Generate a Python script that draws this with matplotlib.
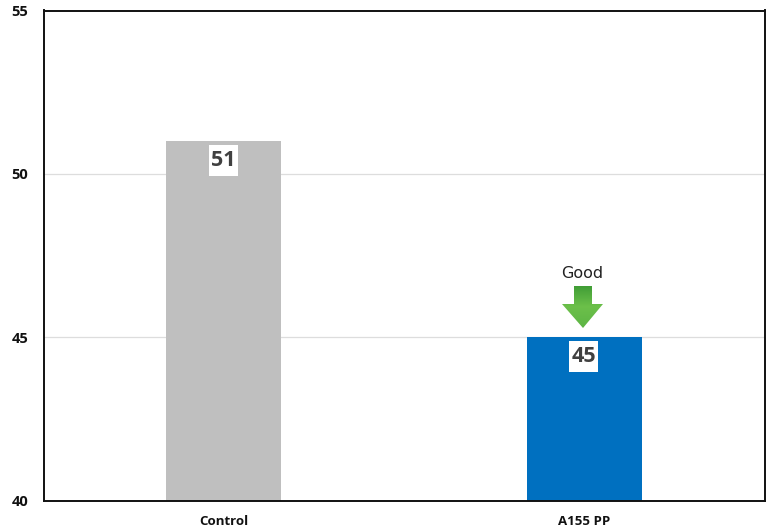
import matplotlib
matplotlib.use('Agg')
import matplotlib.pyplot as plt
import numpy as np
from matplotlib.patches import Polygon, Rectangle
from matplotlib.colors import LinearSegmentedColormap

categories = ['Control', 'A155 PP']
values = [51, 45]
bar_colors = ['#BFBFBF', '#0070C0']
y_ticks = [40, 45, 50, 55]

W, H = 771, 531
fig = plt.figure(figsize=(W / 100, H / 100), dpi=100)
ax = fig.add_axes([43.5 / W, 1 - 501 / H, 721 / W, 490.5 / H])

x = np.arange(len(categories))
ax.bar(x, values, width=0.318, color=bar_colors, zorder=2)
ax.set_xticks(x)
ax.set_xticklabels(categories, fontsize=9.5, fontweight='bold', family='Open Sans', color='#111111')
ax.set_yticks(y_ticks)
ax.set_yticklabels([str(t) for t in y_ticks], fontsize=10.5, fontweight='bold', family='Open Sans', color='#111111')
ax.tick_params(length=0)
ax.tick_params(axis='x', pad=10)
ax.tick_params(axis='y', pad=11)
ax.grid(axis='y', color='#DDDDDD', lw=0.9, zorder=1)
for s in ax.spines.values():
    s.set_linewidth(1.4)
    s.set_color('#111111')

# pixel sizes expressed in data units, for the value boxes
x_px = 2 / 721
y_px = 15 / 490.5

# white value boxes just under the top of each bar
for xi, v in zip(x, values):
    ax.add_patch(Rectangle((xi - 15 * x_px, v - 35 * y_px), 29 * x_px, 31 * y_px,
                           facecolor='white', edgecolor='none', zorder=3))
    ax.text(xi - 0.5 * x_px, v - 19 * y_px, str(v), ha='center', va='center',
            fontsize=15.5, fontweight='bold', family='Open Sans', color='#404040', zorder=4)

# "Good" marker above the second bar, placed in figure pixels
ax.text(582 / W, 1 - 274 / H, 'Good', transform=fig.transFigure, ha='center', va='center',
        fontsize=11.5, family='DejaVu Sans', color='#222222', zorder=5)

arrow_pts = [(574, 286), (592, 286), (592, 304), (603, 304), (583, 328), (562, 304), (574, 304)]
arrow = Polygon([(px / W, 1 - py / H) for px, py in arrow_pts], closed=True,
                transform=fig.transFigure, facecolor='none', edgecolor='none', zorder=5)
ax.add_patch(arrow)
green = LinearSegmentedColormap.from_list('green', ['#3F9C35', '#6CC04A', '#5DB545'])
grad = np.linspace(0, 1, 64).reshape(-1, 1)
img = ax.imshow(grad, cmap=green, aspect='auto', zorder=5, transform=fig.transFigure,
                extent=(562 / W, 603 / W, 1 - 328 / H, 1 - 286 / H))
img.set_clip_path(arrow)
ax.set_xlim(-0.5, 1.5)
ax.set_ylim(40, 55)
ax.set_aspect('auto')

fig.savefig('out.png', dpi=100)
